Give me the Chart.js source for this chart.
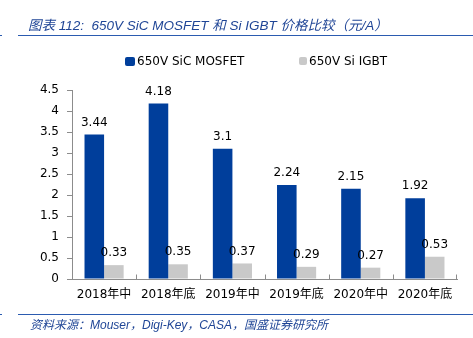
<!DOCTYPE html>
<html><head><meta charset="utf-8">
<script src="https://cdn.jsdelivr.net/npm/chart.js@4.4.1/dist/chart.umd.min.js"></script>
<style>
html,body{margin:0;padding:0;background:#fff;width:473px;height:338px;overflow:hidden;position:relative;font-family:"DejaVu Sans","Noto Sans CJK SC",sans-serif;}
#wrap{position:absolute;left:0;top:0;width:473px;height:338px;}
.title{position:absolute;left:28px;top:14px;font:italic 13.5px "Liberation Sans","Noto Sans CJK SC",sans-serif;color:#1f4596;white-space:nowrap;}
.foot{position:absolute;left:30px;top:315px;font:italic 12px "Liberation Sans","Noto Sans CJK SC",sans-serif;color:#1f4596;white-space:nowrap;}
.hl{position:absolute;left:18px;width:455px;height:1px;background:#2b5bb0;}
.mark{position:absolute;left:0;width:2px;height:1px;background:#2b5bb0;}
.legend{position:absolute;top:53px;left:0;width:473px;height:16px;font:12px "DejaVu Sans",sans-serif;color:#000;}
.li{position:absolute;top:0;display:flex;align-items:center;height:16px;white-space:nowrap;}
.box{display:inline-block;margin-right:2px;border-radius:2px;}
</style></head>
<body>
<div id="wrap"><canvas id="c" width="473" height="338"></canvas></div>
<div class="title">图表 112:&nbsp; 650V SiC MOSFET 和 Si IGBT 价格比较（元/A）</div>
<div class="hl" style="top:35px"></div><div class="mark" style="top:35px"></div>
<div class="hl" style="top:314px"></div><div class="mark" style="top:314px"></div>
<div class="foot">资料来源：Mouser，Digi-Key，CASA，国盛证券研究所</div>
<div class="legend" id="legend"></div>
<script>
const categories = ["2018年中","2018年底","2019年中","2019年底","2020年中","2020年底"];
const sicMosfet = [3.44, 4.18, 3.1, 2.24, 2.15, 1.92];
const siIgbt = [0.33, 0.35, 0.37, 0.29, 0.27, 0.53];
const seriesNames = ["650V SiC MOSFET","650V Si IGBT"];
const yTicks = [0,0.5,1,1.5,2,2.5,3,3.5,4,4.5];

const colors = ["#003e9b","#c9c9c9"];
const axisColor = "#8c8c8c";

// HTML legend built from series names
const lg = document.getElementById('legend');
const legendPos = [{x:125,box:10,h:9},{x:299,box:8,h:8}];
seriesNames.forEach((n,i)=>{
  const d=document.createElement('div');d.className='li';d.style.left=legendPos[i].x+'px';
  const b=document.createElement('span');b.className='box';b.style.width=legendPos[i].box+'px';b.style.height=legendPos[i].h+'px';b.style.background=colors[i];
  const t=document.createElement('span');t.textContent=n;
  d.appendChild(b);d.appendChild(t);lg.appendChild(d);
});

const labelPlugin = {
  id:'valLabels',
  afterDatasetsDraw(chart){
    const ctx=chart.ctx;ctx.save();
    ctx.font='12px "DejaVu Sans", sans-serif';ctx.fillStyle='#000';ctx.textAlign='center';ctx.textBaseline='bottom';
    chart.data.datasets.forEach((ds,di)=>{
      chart.getDatasetMeta(di).data.forEach((bar,i)=>{
        ctx.fillText(String(ds.data[i]), bar.x, bar.y-6);
      });
    });
    ctx.restore();
  }
};
const xTickPlugin = {
  id:'xInwardTicks',
  afterDraw(chart){
    const x=chart.scales.x, ctx=chart.ctx;
    const n=chart.data.labels.length;
    ctx.save();ctx.strokeStyle=axisColor;ctx.lineWidth=1;
    const y=Math.round(x.top)+0.5;
    for(let i=1;i<=n;i++){
      const xx = i<n ? Math.round((x.getPixelForValue(i-1)+x.getPixelForValue(i))/2)+0.5 : Math.round(x.right)-0.5;
      ctx.beginPath();ctx.moveTo(xx,y);ctx.lineTo(xx,y-5);ctx.stroke();
    }
    ctx.restore();
  }
};

new Chart(document.getElementById('c'),{
  type:'bar',
  data:{labels:categories,datasets:[
    {label:seriesNames[0],data:sicMosfet,backgroundColor:colors[0],borderWidth:0,categoryPercentage:0.61,barPercentage:1.0},
    {label:seriesNames[1],data:siIgbt,backgroundColor:colors[1],borderWidth:0,categoryPercentage:0.61,barPercentage:1.0}
  ]},
  options:{
    responsive:false,animation:false,devicePixelRatio:1,
    layout:{padding:{left:0,right:16,top:90,bottom:0}},
    plugins:{legend:{display:false},tooltip:{enabled:false},title:{display:false}},
    scales:{
      x:{
        grid:{display:true,drawOnChartArea:false,drawTicks:false,color:'rgba(0,0,0,0)'},
        border:{display:true,color:axisColor,width:1},
        ticks:{color:'#000',font:{family:'"DejaVu Sans","Noto Sans CJK SC",sans-serif',size:12},padding:9,maxRotation:0,autoSkip:false},
        afterFit(s){s.height=59;}
      },
      y:{
        min:0,max:4.5,
        afterBuildTicks(s){s.ticks=yTicks.map(v=>({value:v}));},
        grid:{display:true,drawOnChartArea:false,drawTicks:true,tickLength:5,color:axisColor},
        border:{display:true,color:axisColor,width:1},
        ticks:{color:'#000',font:{family:'"DejaVu Sans",sans-serif',size:12},padding:8,callback:v=>String(v)},
        afterFit(s){s.width=72;}
      }
    }
  },
  plugins:[labelPlugin,xTickPlugin]
});
</script>
</body></html>
